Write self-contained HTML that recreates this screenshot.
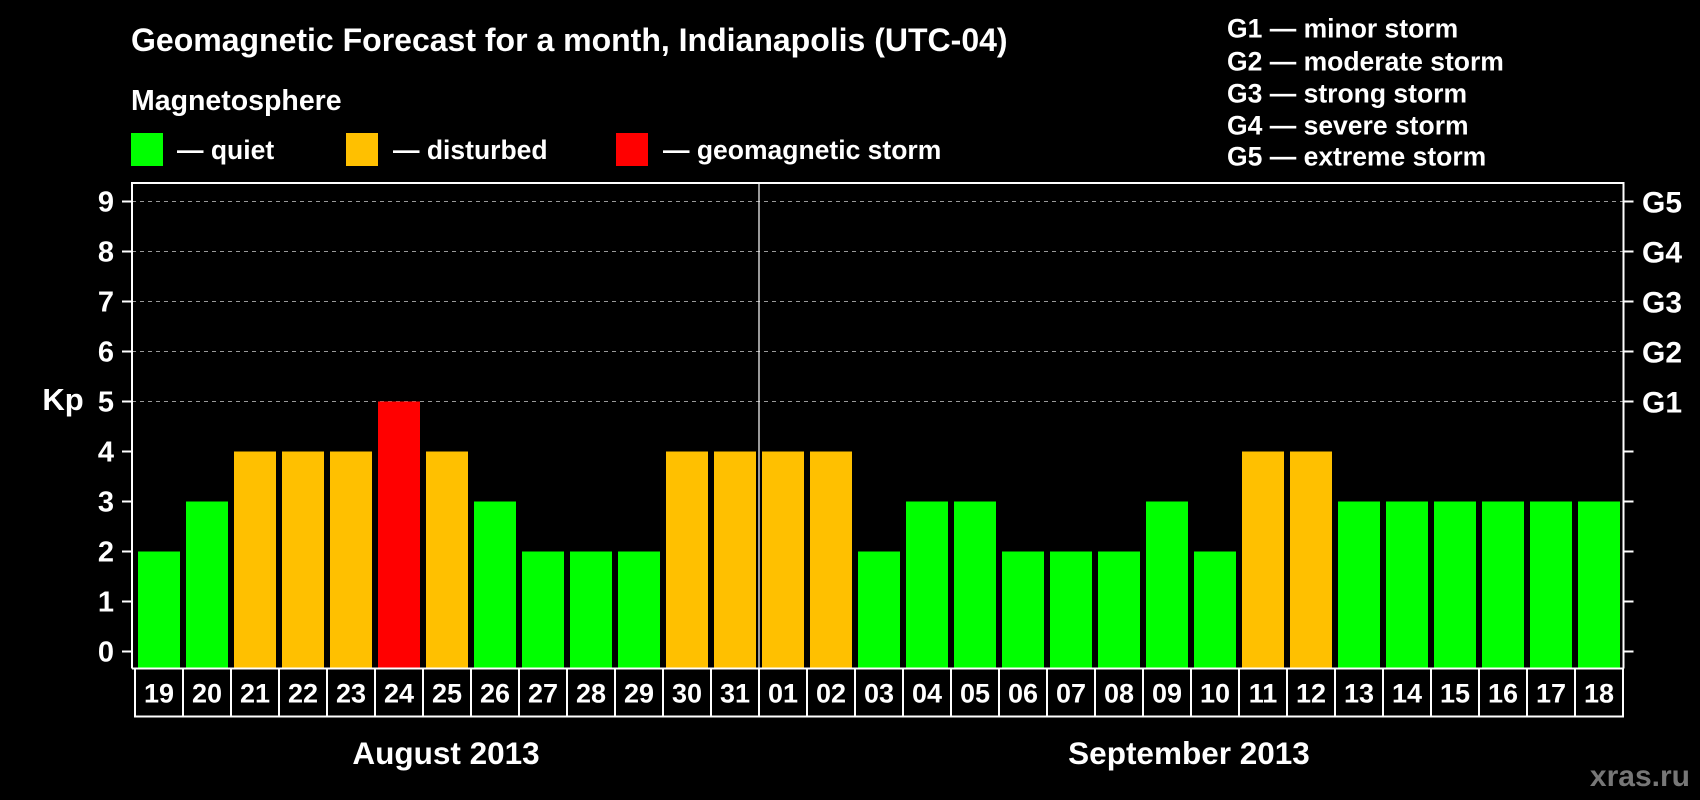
<!DOCTYPE html>
<html><head><meta charset="utf-8"><style>
html,body{margin:0;padding:0;background:#000;}
svg{display:block;font-family:"Liberation Sans",Arial,sans-serif;font-weight:bold;}
</style></head><body>
<svg id="chart" width="1700" height="800" viewBox="0 0 1700 800">
<text x="131" y="51" fill="#fff" font-size="32">Geomagnetic Forecast for a month, Indianapolis (UTC-04)</text>
<text x="131" y="110" fill="#fff" font-size="28.5">Magnetosphere</text>
<rect x="131" y="133" width="32" height="33" fill="#00ff00"/>
<text x="177" y="159" fill="#fff" font-size="26.5">— quiet</text>
<rect x="346" y="133" width="32" height="33" fill="#ffc000"/>
<text x="393" y="159" fill="#fff" font-size="26.5">— disturbed</text>
<rect x="616" y="133" width="32" height="33" fill="#ff0000"/>
<text x="663" y="159" fill="#fff" font-size="26.5">— geomagnetic storm</text>
<g fill="#fff" font-size="26.5">
<text x="1227" y="37.5">G1 — minor storm</text>
<text x="1227" y="70.5">G2 — moderate storm</text>
<text x="1227" y="102.5">G3 — strong storm</text>
<text x="1227" y="134.5">G4 — severe storm</text>
<text x="1227" y="165.5">G5 — extreme storm</text>
</g>
<g id="grid"></g><g id="bars"></g><g id="axes"></g>
<text x="63" y="410" fill="#fff" font-size="31" text-anchor="middle">Kp</text>
<text x="446" y="764" fill="#fff" font-size="31.5" text-anchor="middle">August 2013</text>
<text x="1189" y="764" fill="#fff" font-size="31.5" text-anchor="middle">September 2013</text>
<text x="1690" y="786" fill="#777" font-size="30" text-anchor="end">xras.ru</text>
</svg>
<script>
const days=["19","20","21","22","23","24","25","26","27","28","29","30","31","01","02","03","04","05","06","07","08","09","10","11","12","13","14","15","16","17","18"];
const kp=[2,3,4,4,4,5,4,3,2,2,2,4,4,4,4,2,3,3,2,2,2,3,2,4,4,3,3,3,3,3,3];
const yTicks=[0,1,2,3,4,5,6,7,8,9];
const gLabels=["G1","G2","G3","G4","G5"];
const gLevels=[5,6,7,8,9];
const NS="http://www.w3.org/2000/svg";
const X0=135,CW=48,Y0=651.5,UNIT=50,L=132,R=1623.5,TOP=183,BOT=668.5;
const y=v=>Y0-v*UNIT, x=i=>X0+i*CW;
function mk(t,a,p){const e=document.createElementNS(NS,t);for(const k in a)e.setAttribute(k,a[k]);p.appendChild(e);return e;}
const grid=document.getElementById('grid'),bars=document.getElementById('bars'),axes=document.getElementById('axes');
gLevels.forEach(v=>{
 const l=mk('line',{x1:L,x2:R,y1:y(v),y2:y(v),stroke:'#999','stroke-width':1,'stroke-dasharray':'4,4'},grid);
 
 
});
kp.forEach((v,i)=>{
 const c=v>=5?'#ff0000':(v>=4?'#ffc000':'#00ff00');
 const r=mk('rect',{x:x(i)+3,y:y(v),width:42,height:BOT-y(v),fill:c},bars);
 
 
});
mk('path',{d:`M${L} ${BOT}V${TOP}H${R}V${BOT}`,stroke:'#fff','stroke-width':2,fill:'none'},axes);
mk('line',{x1:L,x2:R,y1:BOT,y2:BOT,stroke:'#fff','stroke-width':2},axes);
mk('line',{x1:x(13),x2:x(13),y1:TOP,y2:BOT,stroke:'#fff','stroke-width':1.2},axes);
yTicks.forEach(v=>{
 mk('line',{x1:122,x2:L,y1:y(v),y2:y(v),stroke:'#fff','stroke-width':2},axes);
 mk('line',{x1:R,x2:R+10,y1:y(v),y2:y(v),stroke:'#fff','stroke-width':2},axes);
 const t=mk('text',{x:106,y:y(v)+10,fill:'#fff','font-size':29,'text-anchor':'middle'},axes);
 t.textContent=v;
 
 
});
gLabels.forEach((g,i)=>{
 const t=mk('text',{x:1642,y:y(gLevels[i])+11,fill:'#fff','font-size':30},axes);
 t.textContent=g;
 
 
});
mk('rect',{x:X0,y:BOT,width:days.length*CW,height:48,fill:'none',stroke:'#fff','stroke-width':2},axes);
days.forEach((d,i)=>{
 if(i>0)mk('line',{x1:x(i),x2:x(i),y1:BOT,y2:BOT+48,stroke:'#fff','stroke-width':2},axes);
 const t=mk('text',{x:x(i)+CW/2,y:BOT+34,fill:'#fff','font-size':27,'text-anchor':'middle'},axes);
 t.textContent=d;
 
 
});
</script>
</body></html>
